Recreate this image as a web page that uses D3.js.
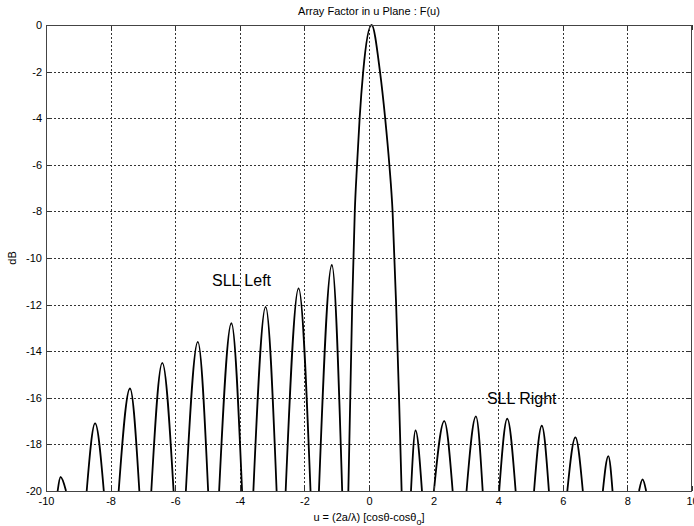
<!DOCTYPE html>
<html>
<head>
<meta charset="utf-8">
<script src="https://cdn.jsdelivr.net/npm/d3@7"></script>
<style>
  body { margin: 0; background: #fff; }
  svg { display: block; font-family: "Liberation Sans", Arial, sans-serif; }
</style>
</head>
<body>
<svg id="chart"></svg>
<script>
// side lobes: [u left base, u peak, u right base, peak dB]
const leftLobes = [
  [-9.64, -9.55, -9.38, -19.4],
  [-8.74, -8.48, -8.21, -17.1],
  [-7.75, -7.40, -7.11, -15.6],
  [-6.74, -6.40, -6.05, -14.5],
  [-5.67, -5.30, -4.98, -13.6],
  [-4.64, -4.26, -3.93, -12.8],
  [-3.58, -3.20, -2.86, -12.1],
  [-2.58, -2.18, -1.81, -11.3],
  [-1.55, -1.15, -0.83, -10.3]
];
const rightLobes = [
  [1.30, 1.44, 1.64, -17.4],
  [2.01, 2.33, 2.59, -17.0],
  [3.02, 3.31, 3.52, -16.8],
  [4.03, 4.28, 4.54, -16.9],
  [5.11, 5.35, 5.57, -17.2],
  [6.14, 6.39, 6.62, -17.7],
  [7.24, 7.41, 7.54, -18.5],
  [8.36, 8.47, 8.58, -19.5]
];
// main lobe [u, dB]
const mainLobe = [
  [-0.64, -20], [-0.58, -16], [-0.52, -12], [-0.44, -8], [-0.37, -6],
  [-0.29, -4], [-0.18, -2], [0.08, 0], [0.34, -2], [0.50, -4],
  [0.63, -6], [0.73, -8], [0.84, -12], [0.93, -16], [1.01, -20]
];
const xTicks = [-10, -8, -6, -4, -2, 0, 2, 4, 6, 8, 10];
const xTickLabels = ["-10", "-8", "-6", "-4", "-2", "0", "2", "4", "6", "8", "10"];
const yTicks = [0, -2, -4, -6, -8, -10, -12, -14, -16, -18, -20];
const yTickLabels = ["0", "-2", "-4", "-6", "-8", "-10", "-12", "-14", "-16", "-18", "-20"];
const notes = [
  {text: "SLL Left", u: -4.86, db: -11.2},
  {text: "SLL Right", u: 3.65, db: -16.25}
];

const W = 694, H = 526;
const margin = {left: 46, right: 2, top: 25, bottom: 35};

const svg = d3.select("#chart")
  .attr("width", W)
  .attr("height", H)
  .attr("viewBox", [0, 0, W, H]);

const x = d3.scaleLinear().domain([-10, 10]).range([margin.left, W - margin.right]);
const y = d3.scaleLinear().domain([-20, 0]).range([H - margin.bottom, margin.top]);

// grid
const grid = svg.append("g")
  .attr("stroke", "#333")
  .attr("stroke-width", 1)
  .attr("stroke-dasharray", "2,2")
  .attr("shape-rendering", "crispEdges");
grid.selectAll(".gx")
  .data(xTicks.slice(1, -1))
  .join("line")
  .attr("x1", d => Math.round(x(d)) + 0.5).attr("x2", d => Math.round(x(d)) + 0.5)
  .attr("y1", y(0)).attr("y2", y(-20));
grid.selectAll(".gy")
  .data(yTicks.slice(1, -1))
  .join("line")
  .attr("x1", x(-10)).attr("x2", x(10))
  .attr("y1", d => Math.round(y(d)) + 0.5).attr("y2", d => Math.round(y(d)) + 0.5);

// curve
svg.append("clipPath").attr("id", "clip")
  .append("rect")
  .attr("x", x(-10)).attr("y", y(0) - 1)
  .attr("width", x(10) - x(-10)).attr("height", y(-20) - y(0) + 1);

const line = d3.line()
  .curve(d3.curveMonotoneX)
  .x(d => x(d[0]))
  .y(d => y(d[1]));

const lobes = leftLobes.concat(rightLobes)
  .map(l => [[l[0], -20], [l[1], l[3]], [l[2], -20]])
  .concat([mainLobe]);

svg.append("g")
  .attr("clip-path", "url(#clip)")
  .selectAll("path")
  .data(lobes)
  .join("path")
  .attr("d", line)
  .style("fill", "none")
  .style("stroke", "#000")
  .style("stroke-width", 1.8)
  .style("stroke-linejoin", "round");

// axes
const styleAxis = g => {
  g.select(".domain").remove();
  g.selectAll("line").attr("stroke", "#333");
  g.selectAll("text").attr("fill", "#000").style("font-size", "11px");
  g.attr("shape-rendering", "crispEdges");
};

svg.append("g")
  .attr("transform", `translate(0,${y(-20)})`)
  .call(d3.axisBottom(x).tickValues(xTicks).tickFormat((d, i) => xTickLabels[i]).tickSize(-5).tickPadding(6))
  .call(styleAxis);
svg.append("g")
  .attr("transform", `translate(0,${y(0)})`)
  .call(d3.axisTop(x).tickValues(xTicks).tickFormat("").tickSize(-5))
  .call(styleAxis);
svg.append("g")
  .attr("transform", `translate(${x(-10)},0)`)
  .call(d3.axisLeft(y).tickValues(yTicks).tickFormat((d, i) => yTickLabels[i]).tickSize(-5).tickPadding(4))
  .call(styleAxis);
svg.append("g")
  .attr("transform", `translate(${x(10)},0)`)
  .call(d3.axisRight(y).tickValues(yTicks).tickFormat("").tickSize(-5))
  .call(styleAxis);

// box
svg.append("rect")
  .attr("x", Math.round(x(-10)) + 0.5).attr("y", Math.round(y(0)) + 0.5)
  .attr("width", Math.round(x(10) - x(-10)) - 1).attr("height", Math.round(y(-20) - y(0)))
  .attr("fill", "none")
  .attr("stroke", "#444")
  .attr("shape-rendering", "crispEdges");

// texts
svg.append("text")
  .attr("x", (x(-10) + x(10)) / 2).attr("y", 15)
  .attr("text-anchor", "middle")
  .style("font-size", "11px")
  .text("Array Factor in u Plane : F(u)");

const xl = svg.append("text")
  .attr("x", (x(-10) + x(10)) / 2).attr("y", 521)
  .attr("text-anchor", "middle")
  .style("font-size", "11px");
xl.append("tspan").text("u = (2a/λ) [cosθ-cosθ");
xl.append("tspan").attr("dy", 4).style("font-size", "9px").text("o");
xl.append("tspan").attr("dy", -4).text("]");

svg.append("text")
  .attr("transform", `translate(16,${(y(0) + y(-20)) / 2}) rotate(-90)`)
  .attr("text-anchor", "middle")
  .style("font-size", "11px")
  .text("dB");

svg.selectAll(".note")
  .data(notes)
  .join("text")
  .attr("x", d => x(d.u)).attr("y", d => y(d.db))
  .style("font-size", "16px")
  .text(d => d.text);
</script>
</body>
</html>
